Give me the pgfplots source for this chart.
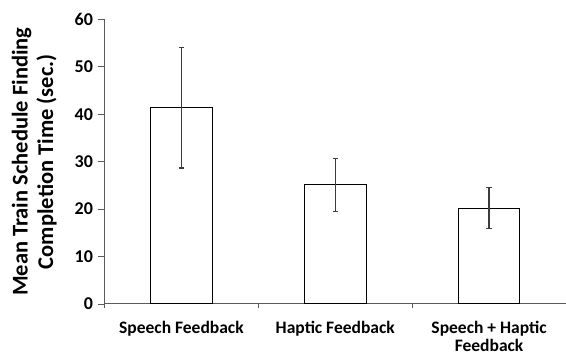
\documentclass[border=0pt]{standalone}
\usepackage{fontspec}
\setmainfont{Carlito}
\usepackage{pgfplots}
\pgfplotsset{compat=1.18}
\definecolor{axgray}{RGB}{90,90,90}
\definecolor{errgray}{RGB}{60,60,60}
\begin{document}
\begin{tikzpicture}
\begin{axis}[
  name=ax,
  at={(0,0)}, anchor=south west,
  scale only axis,
  width=461.5pt, height=284.5pt,
  xmin=0.5, xmax=3.5,
  ymin=0, ymax=60,
  ytick={0,10,...,60},
  xtick={1,2,3},
  xticklabels={Speech Feedback, Haptic Feedback, {Speech + Haptic\\Feedback}},
  minor xtick={0.5,1.5,2.5,3.5},
  major x tick style={draw=none},
  minor tick length=4.5pt,
  major tick length=6pt,
  tick align=outside,
  tick style={axgray, line width=0.9pt},
  axis x line*=bottom,
  axis y line*=left,
  axis line style={axgray, line width=1pt, -},
  /pgf/number format/assume math mode=true,
  yticklabel style={font=\fontsize{18}{18}\selectfont\bfseries, xshift=-2pt},
  xticklabel style={font=\fontsize{17.5}{17.5}\selectfont\bfseries, align=center, yshift=-8pt},
  ylabel={Mean Train Schedule Finding\\Completion Time (sec.)},
  ylabel style={at={(axis description cs:-0.152,0.5)}, anchor=center, rotate=0,
    align=center, font=\fontsize{22.5}{25.5}\selectfont\bfseries},
  ybar, bar width=0.4,
  clip=false,
]
\addplot[draw=black, fill=white, line width=1pt,
  error bars/.cd, y dir=both, y explicit,
  error bar style={errgray, line width=1.2pt},
  error mark options={rotate=90, mark size=2.6pt, errgray, line width=1.2pt}]
  coordinates {
    (1,41.4) +- (0,12.7)
    (2,25.1) +- (0,5.6)
    (3,20.2) +- (0,4.35)
  };
\end{axis}
\pgfresetboundingbox
\path[use as bounding box] ([xshift=-104.5pt,yshift=-51pt]ax.south west) rectangle ([yshift=19.5pt]ax.north east);
\end{tikzpicture}
\end{document}
